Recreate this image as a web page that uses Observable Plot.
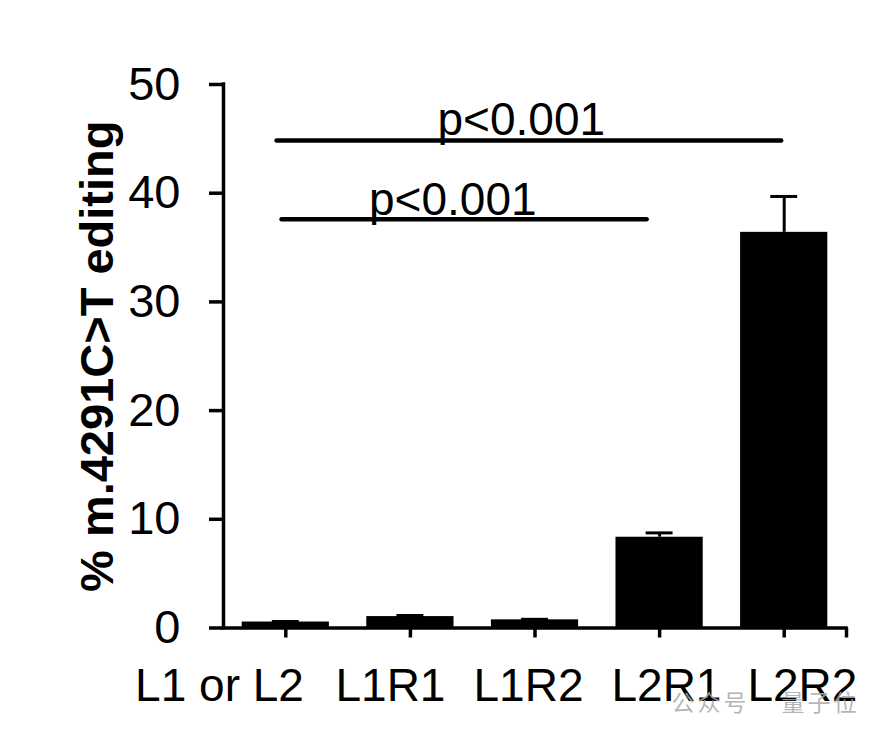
<!DOCTYPE html>
<html>
<head>
<meta charset="utf-8">
<script src="https://cdn.jsdelivr.net/npm/d3@7"></script>
<script src="https://cdn.jsdelivr.net/npm/@observablehq/plot@0.6"></script>
<style>
  html, body { margin: 0; padding: 0; background: #ffffff; }
  #chart svg { display: block; }
</style>
</head>
<body>
<div id="chart"></div>
<script>
// ---- data ----
const categories = ["L1 or L2", "L1R1", "L1R2", "L2R1", "L2R2"];
const means = [0.55, 1.05, 0.75, 8.35, 36.4];
const errors = [0.05, 0.1, 0.05, 0.4, 3.3];
const yTicks = [0, 10, 20, 30, 40, 50];
const yLabel = "% m.4291C>T editing";

// significance brackets (x in category index units)
const bracketStart = [-0.07, -0.03];
const bracketEnd = [3.98, 2.90];
const bracketLevel = [44.85, 37.6];
const pLabels = ["p<0.001", "p<0.001"];
const pLabelX = [1.89, 1.34];
const pLabelY = [45.4, 37.95];

const watermarkParts = ["公众号", "量子位"];

// ---- layout (not data) ----
const half = 0.35;      // half bar width (index units)
const capHalf = 0.108;  // half error-cap width
const labelNudge = [-0.532, -0.16, -0.052, 0.055, 0.146]; // x-label offsets from their tick (index units)

const bars = categories.map((c, i) => ({i, c, v: means[i], e: errors[i], lx: i + labelNudge[i]}));
const brackets = pLabels.map((l, k) => ({
  x1: bracketStart[k], x2: bracketEnd[k], y: bracketLevel[k],
  label: l, lx: pLabelX[k], ly: pLabelY[k]
}));

const wmStyle = {frameAnchor: "bottom-left", textAnchor: "middle", lineAnchor: "middle", dy: 75.5, fontSize: 23, fill: "#a8a8a8", fillOpacity: 0.85, fontFamily: "'Noto Sans CJK SC', sans-serif"};

const chart = Plot.plot({
  width: 888,
  height: 736,
  marginLeft: 223,
  marginRight: 42,
  marginTop: 84,
  marginBottom: 108.5,
  x: {domain: [-0.5, 4.5]},
  y: {domain: [0, 50]},
  style: {fontFamily: "'Liberation Sans', Arial, Helvetica, sans-serif", background: "#ffffff", color: "#000"},
  marks: [
    Plot.rectY(bars, {x1: d => d.i - half, x2: d => d.i + half, y: "v", fill: "#000"}),
    Plot.ruleX(bars, {x: "i", y1: "v", y2: d => d.v + d.e, stroke: "#000", strokeWidth: 3}),
    Plot.ruleY(bars, {y: d => d.v + d.e, x1: d => d.i - capHalf, x2: d => d.i + capHalf, stroke: "#000", strokeWidth: 3}),
    Plot.ruleY([0], {stroke: "#000", strokeWidth: 3.5, strokeLinecap: "square"}),
    Plot.ruleX([-0.5], {stroke: "#000", strokeWidth: 3.5, strokeLinecap: "square"}),
    Plot.axisY({ticks: yTicks, tickSize: 14, tickPadding: 29, fontSize: 47, strokeWidth: 3.5, label: null}),
    Plot.axisX({ticks: [0, 1, 2, 3, 4, 4.5], tickFormat: () => "", tickSize: 10, tickPadding: 0, strokeWidth: 3.5, label: null}),
    Plot.text(bars, {x: "lx", text: "c", frameAnchor: "bottom", textAnchor: "middle", lineAnchor: "bottom", dy: 72.5, fontSize: 46, fill: "#000"}),
    Plot.ruleY(brackets, {y: "y", x1: "x1", x2: "x2", stroke: "#000", strokeWidth: 4.5, strokeLinecap: "round"}),
    Plot.text(brackets, {x: "lx", y: "ly", text: "label", fontSize: 46, lineAnchor: "bottom", fill: "#000"}),
    Plot.text([yLabel], {text: d => d, frameAnchor: "left", textAnchor: "middle", rotate: -90, dx: -126, dy: 0, fontSize: 47, fontWeight: "bold", fill: "#000"}),
    Plot.text([watermarkParts[0]], {text: d => d, dx: 487, ...wmStyle}),
    Plot.text([watermarkParts[1]], {text: d => d, dx: 597, ...wmStyle})
  ]
});
document.getElementById("chart").appendChild(chart);
// letter spacing for the faint watermark
d3.select(chart).selectAll("text").filter(function() { return watermarkParts.includes(this.textContent); }).style("letter-spacing", "3px");
</script>
</body>
</html>
